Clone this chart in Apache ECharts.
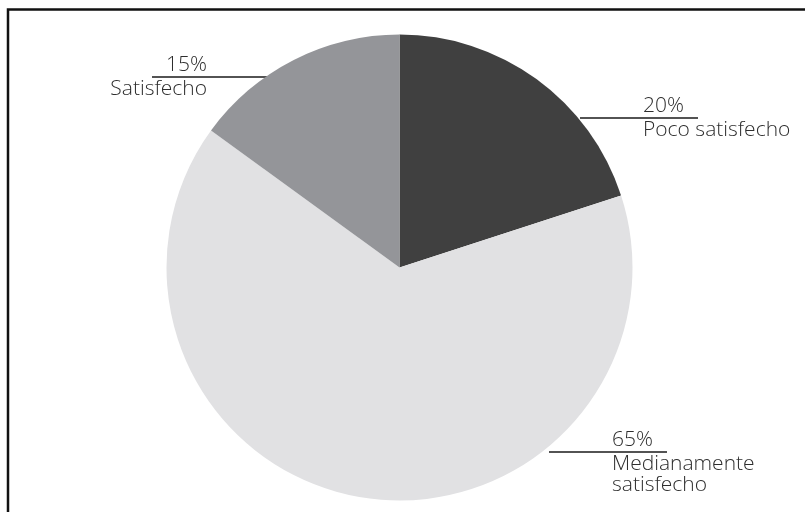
<!DOCTYPE html>
<html>
<head>
<meta charset="utf-8">
<script src="https://cdn.jsdelivr.net/npm/echarts@6/dist/echarts.min.js"></script>
<style>
  html, body { margin: 0; padding: 0; background: #fff; }
  #chart { width: 805px; height: 512px; }
</style>
</head>
<body>
<div id="chart"></div>
<script>
// Satisfaction levels and their share (%)
const categories = ['Poco satisfecho', 'Medianamente\nsatisfecho', 'Satisfecho'];
const values = [20, 65, 15];

// Slice fills, same order as categories
const sliceColors = ['#404040', '#e1e1e3', '#949599'];

// Label placement: text anchor x, leader line height, side the label sits on
const labelX = [643, 612, 207];
const leaderY = [118, 452, 77];
const leaderSide = [1, 1, -1];

const CX = 399.5, CY = 267.5, R = 233;

const chart = echarts.init(document.getElementById('chart'), null, { renderer: 'canvas' });

const textStyle = { fontFamily: 'Open Sans', fontSize: 21, fontWeight: 300, color: '#2e2e2e' };

chart.setOption({
  backgroundColor: '#ffffff',
  animation: false,
  graphic: [{
    type: 'rect',
    shape: { x: 8, y: 9.5, width: 820, height: 540 },
    style: { fill: 'none', stroke: '#111', lineWidth: 2.5 },
    silent: true
  }],
  series: [{
    type: 'pie',
    center: [CX, CY],
    radius: R,
    startAngle: 90,
    clockwise: true,
    avoidLabelOverlap: false,
    data: categories.map((name, i) => ({
      name: name,
      value: values[i],
      itemStyle: { color: sliceColors[i] }
    })),
    label: {
      show: true,
      position: 'outside',
      formatter: p => '{v|' + p.value + '%}\n{n|' + p.name + '}',
      ...textStyle,
      rich: {
        v: { ...textStyle, lineHeight: 27 },
        n: { ...textStyle, lineHeight: 21 }
      }
    },
    labelLine: {
      show: true,
      lineStyle: { color: '#1a1a1a', width: 1.5 }
    },
    labelLayout: function (params) {
      const i = params.dataIndex;
      const side = leaderSide[i];
      const y = leaderY[i];
      const textX = labelX[i];
      const startX = textX - side * 63;
      const endX = textX + side * 55;
      return {
        x: textX,
        y: y - 25,
        align: side > 0 ? 'left' : 'right',
        verticalAlign: 'top',
        labelLinePoints: [[startX, y], [textX, y], [endX, y]]
      };
    }
  }]
});
</script>
</body>
</html>
